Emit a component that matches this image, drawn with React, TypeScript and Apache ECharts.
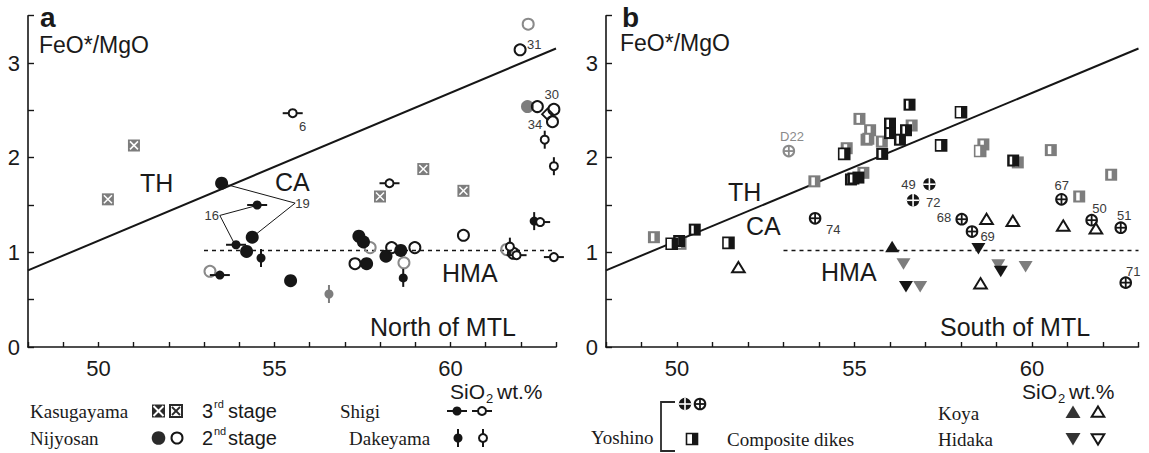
import React, { useEffect, useRef } from 'react';
import * as echarts from 'echarts';

// ---------- data ----------
const boundaryLine = [[48, 0.81], [63, 3.153]];
const hmaLine = [[53, 1.02], [63, 1.02]];

// Panel a (North of MTL)
const kasugayama = [[51.01, 2.13], [50.27, 1.56], [59.23, 1.88], [60.37, 1.65], [58.0, 1.59]];
const nijyosanFilled = [[53.5, 1.73], [54.37, 1.16], [54.21, 1.01], [55.46, 0.70], [57.4, 1.17], [57.53, 1.11], [57.62, 0.88], [58.17, 0.96], [58.59, 1.02]];
const nijyosanFilledGrey = [[62.19, 2.54]];
const nijyosanOpen = [[61.98, 3.14], [62.47, 2.54], [62.94, 2.51], [62.9, 2.38], [57.29, 0.88], [58.33, 1.05], [58.99, 1.05], [60.37, 1.18], [61.79, 0.99]];
const nijyosanOpenGrey = [[62.21, 3.41], [53.17, 0.80], [57.72, 1.05], [58.68, 0.89], [61.6, 1.03]];
const diamondOpen = [[62.76, 2.46]];
const shigiFilled = [[54.51, 1.50], [53.91, 1.08], [53.45, 0.76]];
const shigiOpen = [[55.52, 2.47], [58.27, 1.73], [61.88, 0.97], [62.94, 0.95], [62.55, 1.32]];
const dakeyamaFilled = [[54.62, 0.94], [58.66, 0.73], [62.38, 1.33]];
const dakeyamaFilledGrey = [[56.55, 0.56]];
const dakeyamaOpen = [[62.68, 2.19], [62.94, 1.91], [61.69, 1.06]];
const leader16 = [[54.45, 1.49], [53.45, 1.39], [53.88, 1.08]];
const leader19 = [[53.5, 1.73], [55.59, 1.52], [54.37, 1.16]];
const labelsA: [number, number, string][] = [
  [55.8, 2.33, '6'], [62.38, 3.2, '31'], [62.88, 2.67, '30'], [62.4, 2.35, '34'],
  [53.22, 1.39, '16'], [55.8, 1.52, '19'],
];

// Panel b (South of MTL)
const compositeBlack = [[56.55, 2.56], [56.0, 2.36], [56.0, 2.26], [56.45, 2.29], [56.28, 2.19], [55.78, 2.04], [54.9, 1.77], [55.11, 1.79], [54.97, 1.78], [59.47, 1.97], [50.06, 1.12], [50.5, 1.24]];
const compositeGrey = [[49.35, 1.16], [53.87, 1.75], [55.14, 2.41], [55.44, 2.29], [55.34, 2.19], [54.78, 2.1], [55.25, 1.84], [56.61, 2.34], [55.39, 2.2], [55.77, 2.17], [58.63, 2.14], [59.6, 1.95], [60.53, 2.08], [62.23, 1.82], [61.33, 1.59], [50.1, 1.09]];
const compositeOutline = [[49.85, 1.09], [51.45, 1.10], [54.71, 2.04], [58.0, 2.48], [57.44, 2.13]];
const compositeOutlineGrey = [[58.54, 2.07]];
const yoshinoFilled = [[57.11, 1.72], [56.65, 1.55]];
const yoshinoOpen = [[53.89, 1.36], [58.02, 1.35], [58.31, 1.22], [60.83, 1.56], [61.68, 1.34], [62.5, 1.26], [62.64, 0.68]];
const yoshinoOpenGrey = [[53.15, 2.07]];
const koyaFilled = [[56.06, 1.06]];
const koyaOpen = [[51.73, 0.84], [58.72, 1.35], [59.46, 1.33], [60.88, 1.28], [61.8, 1.25], [58.55, 0.67]];
const hidakaFilled = [[58.49, 1.04], [59.12, 0.80], [56.45, 0.64]];
const hidakaGrey = [[56.38, 0.88], [56.85, 0.64], [59.05, 0.87], [59.82, 0.85]];
const labelsB: [number, number, string][] = [
  [53.24, 2.22, 'D22'], [56.52, 1.72, '49'], [57.22, 1.53, '72'], [54.4, 1.24, '74'],
  [57.52, 1.37, '68'], [58.75, 1.17, '69'], [60.84, 1.71, '67'], [61.9, 1.46, '50'],
  [62.6, 1.39, '51'], [62.85, 0.8, '71'],
];

const xTicks = [50, 55, 60];
const yTicks = [0, 1, 2, 3];

// ---------- styling ----------
const INK = '#161616';
const GREY = '#7d7d7d';
const SANS = '"Liberation Sans", Arial, sans-serif';
const SERIF = '"Liberation Serif", "Times New Roman", serif';

function glyph(kind: string, x: number, y: number): any[] {
  const circ = (r: number, fill: string, stroke = 'none', lw = 0) => ({ type: 'circle', shape: { cx: x, cy: y, r }, style: { fill, stroke, lineWidth: lw } });
  const ln = (x1: number, y1: number, x2: number, y2: number, stroke: string, lw: number) => ({ type: 'line', shape: { x1, y1, x2, y2 }, style: { stroke, lineWidth: lw } });
  const rect = (rx: number, ry: number, w: number, h: number, fill: string, stroke = 'none', lw = 0) => ({ type: 'rect', shape: { x: rx, y: ry, width: w, height: h }, style: { fill, stroke, lineWidth: lw } });
  const poly = (pts: number[][], fill: string, stroke = 'none', lw = 0) => ({ type: 'polygon', shape: { points: pts }, style: { fill, stroke, lineWidth: lw } });
  switch (kind) {
    case 'kasu':
      return [rect(x - 6, y - 6, 12, 12, GREY), ln(x - 4, y - 4, x + 4, y + 4, '#fff', 1.5), ln(x - 4, y + 4, x + 4, y - 4, '#fff', 1.5)];
    case 'kasuDark':
      return [rect(x - 6.5, y - 6.5, 13, 13, '#2a2a2a'), ln(x - 5, y - 5, x + 5, y + 5, '#fff', 2), ln(x - 5, y + 5, x + 5, y - 5, '#fff', 2)];
    case 'kasuOpen':
      return [rect(x - 6, y - 6, 12, 12, '#fff', '#2a2a2a', 2), ln(x - 4, y - 4, x + 4, y + 4, '#2a2a2a', 1.8), ln(x - 4, y + 4, x + 4, y - 4, '#2a2a2a', 1.8)];
    case 'nijF': return [circ(6.5, INK)];
    case 'nijFL': return [circ(6.8, '#2a2a2a')];
    case 'nijFG': return [circ(6.5, GREY)];
    case 'nijO': return [circ(5.5, 'none', INK, 2)];
    case 'nijOG': return [circ(5.5, 'none', '#8a8a8a', 2)];
    case 'diaO': return [poly([[x, y - 5.5], [x + 5.5, y], [x, y + 5.5], [x - 5.5, y]], 'none', INK, 1.8)];
    case 'shigiF': return [ln(x - 10, y, x + 10, y, INK, 2), circ(4.5, INK)];
    case 'shigiO': return [ln(x - 10, y, x + 10, y, INK, 2), circ(4, '#fff', INK, 2)];
    case 'dakeF': return [ln(x, y - 9, x, y + 9, INK, 2), circ(4.5, INK)];
    case 'dakeFG': return [ln(x, y - 9, x, y + 9, GREY, 2), circ(4.5, GREY)];
    case 'dakeO': return [ln(x, y - 9, x, y + 9, INK, 2), circ(4, '#fff', INK, 2)];
    case 'yoshF': return [circ(6.2, INK), ln(x - 6.2, y, x + 6.2, y, '#fff', 1.6), ln(x, y - 6.2, x, y + 6.2, '#fff', 1.6)];
    case 'yoshO': return [circ(5.3, '#fff', INK, 2), ln(x - 5.3, y, x + 5.3, y, INK, 1.8), ln(x, y - 5.3, x, y + 5.3, INK, 1.8)];
    case 'yoshOG': return [circ(5.3, '#fff', '#8a8a8a', 2), ln(x - 5.3, y, x + 5.3, y, '#8a8a8a', 1.8), ln(x, y - 5.3, x, y + 5.3, '#8a8a8a', 1.8)];
    case 'compB': return [rect(x - 6, y - 6, 12, 12, INK), rect(x - 3.5, y - 4, 2.5, 8, '#fff')];
    case 'compG': return [rect(x - 6, y - 6, 12, 12, GREY), rect(x - 3, y - 4, 3.5, 8, '#fff')];
    case 'compO': return [rect(x - 5.5, y - 5.5, 11, 11, '#fff', INK, 1.6), rect(x, y - 5.5, 5.5, 11, INK)];
    case 'compOG': return [rect(x - 5.5, y - 5.5, 11, 11, '#fff', GREY, 1.6), rect(x, y - 5.5, 5.5, 11, GREY)];
    case 'triUF': return [poly([[x, y - 6], [x + 7, y + 5.5], [x - 7, y + 5.5]], INK)];
    case 'triUL': return [poly([[x, y - 6.5], [x + 7.5, y + 6], [x - 7.5, y + 6]], '#333')];
    case 'triUO': return [poly([[x, y - 5.5], [x + 6.3, y + 4.8], [x - 6.3, y + 4.8]], 'none', INK, 2)];
    case 'triDF': return [poly([[x - 7, y - 5.5], [x + 7, y - 5.5], [x, y + 6]], INK)];
    case 'triDL': return [poly([[x - 7.5, y - 6], [x + 7.5, y - 6], [x, y + 6.5]], '#333')];
    case 'triDG': return [poly([[x - 7, y - 5.5], [x + 7, y - 5.5], [x, y + 6]], GREY)];
    case 'triDO': return [poly([[x - 6.3, y - 4.8], [x + 6.3, y - 4.8], [x, y + 5.5]], 'none', INK, 2)];
    default: return [];
  }
}

function markerSeries(kind: string, data: number[][], gi: number) {
  return {
    type: 'custom', coordinateSystem: 'cartesian2d', xAxisIndex: gi, yAxisIndex: gi,
    data, clip: false, silent: true, z: 4,
    renderItem: (_p: any, api: any) => {
      const p = api.coord([api.value(0), api.value(1)]);
      return { type: 'group', children: glyph(kind, p[0], p[1]) };
    },
  };
}

function labelSeries(labels: [number, number, string][], gi: number) {
  return {
    type: 'custom', coordinateSystem: 'cartesian2d', xAxisIndex: gi, yAxisIndex: gi,
    data: labels.map((l) => [l[0], l[1]]), clip: false, silent: true, z: 5,
    renderItem: (params: any, api: any) => {
      const p = api.coord([api.value(0), api.value(1)]);
      const t = labels[params.dataIndex][2];
      return {
        type: 'text', x: p[0], y: p[1],
        style: { text: t, fill: t === 'D22' ? '#8a8a8a' : '#3a3a3a', font: `13px ${SANS}`, align: 'center', verticalAlign: 'middle', textAlign: 'center', textVerticalAlign: 'middle' },
      };
    },
  };
}

function lineSeries(data: number[][], gi: number, width: number, dashed = false) {
  return {
    type: 'line', xAxisIndex: gi, yAxisIndex: gi, data, symbol: 'none', silent: true, z: 2,
    lineStyle: { color: INK, width, type: dashed ? [4, 4] : 'solid' },
  };
}

function txt(text: string, x: number, y: number, font: string, align = 'left', fill = '#1a1a1a') {
  return { type: 'text', x, y, silent: true, style: { text, font, fill, textAlign: align, textVerticalAlign: 'middle', align, verticalAlign: 'middle' } };
}

function iconGroup(kind: string, x: number, y: number) {
  return { type: 'group', silent: true, children: glyph(kind, x, y) };
}

export default function App() {
  const ref = useRef<HTMLDivElement>(null);
  useEffect(() => {
    if (!ref.current) return;
    const chart = echarts.init(ref.current, undefined, { renderer: 'svg' });
    const axisLineStyle = { color: INK, width: 1.6 };
    const xAxis = [0, 1].map((gi) => ({
      gridIndex: gi, type: 'value', min: 48, max: 63, interval: 1,
      axisLine: { onZero: false, lineStyle: axisLineStyle },
      axisTick: { inside: true, length: 5, lineStyle: { color: INK, width: 1.4 } },
      splitLine: { show: false },
      axisLabel: { formatter: (v: number) => (xTicks.includes(v) ? String(v) : ''), fontSize: 22, color: '#1a1a1a', fontFamily: SANS, margin: 10 },
    }));
    const yAxis = [0, 1].map((gi) => ({
      gridIndex: gi, type: 'value', min: 0, max: 3.5, interval: 0.5,
      axisLine: { show: true, onZero: false, lineStyle: axisLineStyle },
      axisTick: { show: true, inside: true, length: 6, lineStyle: { color: INK, width: 1.4 } },
      splitLine: { show: false },
      axisLabel: { formatter: (v: number) => (yTicks.includes(v) ? String(v) : ''), fontSize: 22, color: '#1a1a1a', fontFamily: SANS, margin: 8 },
    }));

    const series: any[] = [
      lineSeries(boundaryLine, 0, 2), lineSeries(hmaLine, 0, 1.5, true),
      lineSeries(leader16, 0, 1), lineSeries(leader19, 0, 1),
      lineSeries(boundaryLine, 1, 2), lineSeries(hmaLine, 1, 1.5, true),
      markerSeries('kasu', kasugayama, 0),
      markerSeries('nijOG', nijyosanOpenGrey, 0),
      markerSeries('nijFG', nijyosanFilledGrey, 0),
      markerSeries('nijF', nijyosanFilled, 0),
      markerSeries('nijO', nijyosanOpen, 0),
      markerSeries('diaO', diamondOpen, 0),
      markerSeries('dakeFG', dakeyamaFilledGrey, 0),
      markerSeries('dakeF', dakeyamaFilled, 0),
      markerSeries('shigiF', shigiFilled, 0),
      markerSeries('shigiO', shigiOpen, 0),
      markerSeries('dakeO', dakeyamaOpen, 0),
      labelSeries(labelsA, 0),
      markerSeries('compG', compositeGrey, 1),
      markerSeries('compOG', compositeOutlineGrey, 1),
      markerSeries('compB', compositeBlack, 1),
      markerSeries('compO', compositeOutline, 1),
      markerSeries('yoshOG', yoshinoOpenGrey, 1),
      markerSeries('yoshO', yoshinoOpen, 1),
      markerSeries('yoshF', yoshinoFilled, 1),
      markerSeries('triUF', koyaFilled, 1),
      markerSeries('triUO', koyaOpen, 1),
      markerSeries('triDG', hidakaGrey, 1),
      markerSeries('triDF', hidakaFilled, 1),
      labelSeries(labelsB, 1),
    ];

    const big = `25px ${SANS}`;
    const serif = `19px ${SERIF}`;
    const leg = `20px ${SANS}`;
    const graphic: any[] = [
      txt('a', 40, 17, `bold 28px ${SANS}`),
      txt('FeO*/MgO', 39, 45, `23px ${SANS}`),
      txt('TH', 140, 183, big),
      txt('CA', 275, 182, big),
      txt('HMA', 442, 273, big),
      txt('North of MTL', 370, 327, big),
      txt('b', 622, 17, `bold 28px ${SANS}`),
      txt('FeO*/MgO', 620, 43, `23px ${SANS}`),
      txt('TH', 728, 192, big),
      txt('CA', 746, 226, big),
      txt('HMA', 821, 272, big),
      txt('South of MTL', 940, 327, big),
      // legend a
      txt('SiO', 450, 391, `21px ${SANS}`),
      txt('2', 486, 398, `13px ${SANS}`),
      txt('wt.%', 497, 391, `21px ${SANS}`),
      txt('Kasugayama', 30, 411, serif),
      txt('Nijyosan', 30, 438, serif),
      iconGroup('kasuDark', 158.5, 411), iconGroup('kasuOpen', 176, 411),
      iconGroup('nijFL', 158.5, 438), iconGroup('nijO', 177, 438),
      txt('3', 202, 411, leg), txt('rd', 214, 404, `11px ${SANS}`), txt('stage', 228, 411, leg),
      txt('2', 202, 438, leg), txt('nd', 214, 431, `11px ${SANS}`), txt('stage', 228, 438, leg),
      txt('Shigi', 340, 411, serif),
      txt('Dakeyama', 349, 438, serif),
      iconGroup('shigiF', 457, 411), iconGroup('shigiO', 482, 411),
      iconGroup('dakeF', 458, 438), iconGroup('dakeO', 483, 438),
      // legend b
      txt('SiO', 1022, 391, `21px ${SANS}`),
      txt('2', 1058, 398, `13px ${SANS}`),
      txt('wt.%', 1069, 391, `21px ${SANS}`),
      txt('Yoshino', 591, 437, serif),
      { type: 'polyline', silent: true, shape: { points: [[675, 402], [661, 402], [661, 451], [675, 451]] }, style: { stroke: '#2a2a2a', lineWidth: 1.8, fill: 'none' } },
      iconGroup('yoshF', 685, 404), iconGroup('yoshO', 700, 404),
      iconGroup('compO', 692, 439),
      txt('Composite dikes', 727, 439, serif),
      txt('Koya', 938, 413, serif),
      txt('Hidaka', 938, 439, serif),
      iconGroup('triUL', 1073, 412), iconGroup('triUO', 1098, 412),
      iconGroup('triDL', 1073, 439), iconGroup('triDO', 1098, 439),
    ];

    chart.setOption({
      animation: false,
      backgroundColor: '#ffffff',
      grid: [
        { left: 28, top: 15.7, width: 528, height: 331.3 },
        { left: 606, top: 15.7, width: 532.5, height: 331.3 },
      ],
      xAxis, yAxis, series, graphic,
    });
    return () => chart.dispose();
  }, []);
  return <div ref={ref} style={{ position: 'fixed', left: 0, top: 0, width: 1149, height: 453, background: '#fff' }} />;
}
